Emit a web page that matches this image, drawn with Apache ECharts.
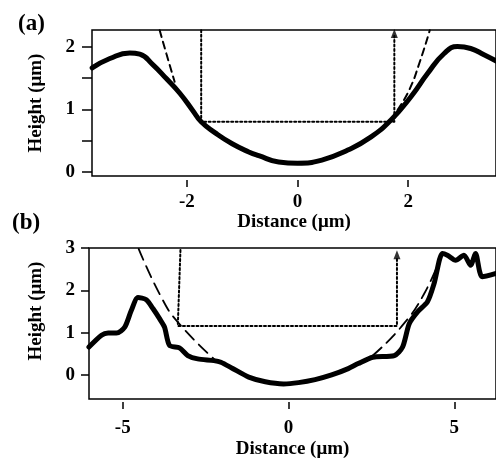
<!DOCTYPE html>
<html>
<head>
<meta charset="utf-8">
<script src="https://cdn.jsdelivr.net/npm/echarts@6/dist/echarts.min.js"></script>
<style>
  html, body { margin: 0; padding: 0; background: #fff; }
  #main { width: 496px; height: 462px; }
</style>
</head>
<body>
<div id="main"></div>
<script>
// panel (a): measured profile, fitted curve, width markers
var profileA = [
  [-3.71, 1.66], [-3.39, 1.81], [-3.03, 1.90], [-2.85, 1.88], [-2.61, 1.71],
  [-2.37, 1.49], [-2.13, 1.26], [-1.90, 0.99], [-1.74, 0.80], [-1.48, 0.62],
  [-1.18, 0.45], [-0.88, 0.32], [-0.70, 0.26], [-0.34, 0.16], [0, 0.14],
  [0.44, 0.19], [0.91, 0.35], [1.33, 0.56], [1.69, 0.83], [2.05, 1.20],
  [2.35, 1.57], [2.65, 1.89], [2.89, 2.00], [3.13, 1.97], [3.37, 1.87],
  [3.59, 1.77]
];
var fitLeftA = [[-2.49, 2.26], [-2.37, 1.89], [-2.22, 1.44]];
var fitRightA = [[1.81, 0.99], [2.02, 1.31], [2.20, 1.73], [2.39, 2.26]];
var markerA = [[-1.74, 2.26], [-1.74, 0.80], [1.75, 0.80], [1.75, 2.17]];
var arrowA = [[1.75, 2.21]];

// panel (b)
var profileB = [
  [-6.02, 0.66], [-5.64, 0.94], [-5.44, 0.99], [-5.19, 0.99], [-4.94, 1.13],
  [-4.74, 1.53], [-4.54, 1.83], [-4.29, 1.78], [-4.09, 1.57], [-3.89, 1.33],
  [-3.74, 1.13], [-3.59, 0.70], [-3.29, 0.64], [-3.04, 0.46], [-2.74, 0.38],
  [-2.25, 0.34], [-2.04, 0.30], [-1.70, 0.16], [-1.20, -0.05], [-0.70, -0.16],
  [-0.15, -0.21], [0.30, -0.18], [0.80, -0.11], [1.30, 0.0], [1.80, 0.15],
  [2.10, 0.27], [2.54, 0.42], [3.19, 0.46], [3.44, 0.66], [3.64, 1.21],
  [3.89, 1.49], [4.19, 1.73], [4.39, 2.16], [4.64, 2.87], [4.79, 2.83],
  [5.04, 2.71], [5.29, 2.83], [5.49, 2.59], [5.64, 2.87], [5.84, 2.32],
  [6.26, 2.40]
];
var fitLeftB = [[-4.52, 2.98], [-3.84, 1.84], [-3.34, 1.25], [-2.25, 0.38]];
var fitRightB = [[2.54, 0.46], [3.39, 1.13], [4.09, 1.92], [4.64, 2.90]];
var markerB = [[-3.26, 2.95], [-3.34, 1.16], [3.27, 1.16], [3.27, 2.78]];
var arrowB = [[3.27, 2.84]];

var xTicksA = [-2, 0, 2];
var yTicksA = [0, 0.5, 1, 1.5, 2];
var yLabelsA = [0, 1, 2];
var xTicksB = [-5, 0, 5];
var yTicksB = [0, 1, 2, 3];

var serif = 'Liberation Serif';
var txt = { color: '#000', fontFamily: serif, fontWeight: 'bold', fontSize: 19 };

function xAxisFor(grid, min, max, ticks, offset, gap, margin) {
  return {
    type: 'value', gridIndex: grid, min: min, max: max, offset: offset, position: 'bottom',
    name: 'Distance (μm)', nameLocation: 'middle', nameGap: gap,
    nameTextStyle: txt,
    axisLine: { show: false, onZero: false },
    axisTick: { show: true, length: 7, customValues: ticks, lineStyle: { color: '#000', width: 1.5 } },
    axisLabel: Object.assign({ customValues: ticks, margin: margin }, txt),
    splitLine: { show: false }
  };
}
function yAxisFor(grid, min, max, ticks, labels, gap, tickLen, margin, pad) {
  return {
    type: 'value', gridIndex: grid, min: min, max: max, position: 'left',
    name: 'Height (μm)', nameLocation: 'middle', nameGap: gap,
    nameTextStyle: Object.assign({ padding: pad }, txt),
    axisLine: { show: false, onZero: false },
    axisTick: { show: true, length: tickLen, customValues: ticks, lineStyle: { color: '#000', width: 1.5 } },
    axisLabel: Object.assign({ customValues: labels, margin: margin }, txt),
    splitLine: { show: false }
  };
}
function line(xi, data, style, width, smooth) {
  return {
    type: 'line', xAxisIndex: xi, yAxisIndex: xi, data: data, smooth: smooth,
    symbol: 'none', silent: true,
    lineStyle: { color: '#000', width: width, type: style, cap: 'round', join: 'round' }
  };
}
function arrow(xi, data) {
  return {
    type: 'scatter', xAxisIndex: xi, yAxisIndex: xi, data: data,
    symbol: 'triangle', symbolSize: [7, 9], silent: true,
    itemStyle: { color: '#000' }
  };
}

var chart = echarts.init(document.getElementById('main'), null, { renderer: 'canvas' });
chart.setOption({
  animation: false,
  backgroundColor: '#fff',
  title: [
    { text: '(a)', left: 13, top: 8, textStyle: { color: '#000', fontFamily: serif, fontWeight: 'bold', fontSize: 23 } },
    { text: '(b)', left: 7, top: 207, textStyle: { color: '#000', fontFamily: serif, fontWeight: 'bold', fontSize: 23 } }
  ],
  grid: [
    { left: 92, top: 30, width: 407, height: 146, show: true, borderColor: '#000', borderWidth: 1.5 },
    { left: 89, top: 248, width: 410, height: 151, show: true, borderColor: '#000', borderWidth: 1.5 }
  ],
  xAxis: [
    xAxisFor(0, -3.713, 3.587, xTicksA, 4, 26, 13),
    xAxisFor(1, -6.018, 6.257, xTicksB, 3, 38, 17)
  ],
  yAxis: [
    yAxisFor(0, -0.064, 2.265, yTicksA, yLabelsA, 46, 10, 17, 0),
    yAxisFor(1, -0.567, 3, yTicksB, yTicksB, 43, 8, 14, [0, 0, 0, 25])
  ],
  series: [
    line(0, markerA, [2, 2.5], 2, false),
    arrow(0, arrowA),
    line(0, fitLeftA, [7, 5], 2, true),
    line(0, fitRightA, [7, 5], 2, true),
    line(0, profileA, 'solid', 5, true),
    line(1, markerB, [2, 2.5], 2, false),
    arrow(1, arrowB),
    line(1, fitLeftB, [12, 7], 1.8, true),
    line(1, fitRightB, [12, 7], 1.8, true),
    line(1, profileB, 'solid', 5, 0.25)
  ]
});
</script>
</body>
</html>
